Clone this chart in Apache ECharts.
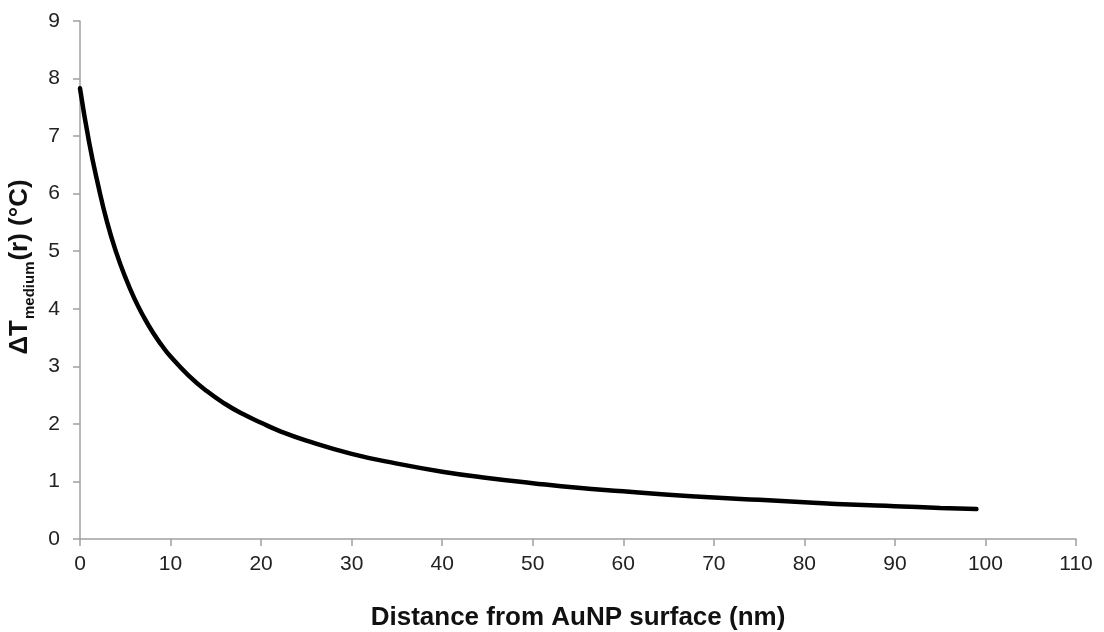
<!DOCTYPE html>
<html>
<head>
<meta charset="utf-8">
<script src="https://cdn.jsdelivr.net/npm/echarts@6/dist/echarts.min.js"></script>
<style>
html,body{margin:0;padding:0;background:#fff;}
#chart{width:1104px;height:632px;}
</style>
</head>
<body>
<div id="chart"></div>
<script>
// Distance from AuNP surface (nm)
var distance = [0, 1, 2, 3, 4, 5, 6, 7, 8, 9, 10, 12, 14, 16, 18, 20, 22, 25, 30, 35, 40, 45, 50, 55, 60, 65, 70, 75, 80, 85, 90, 95, 99];
// ΔT_medium(r) (°C)
var deltaT = [7.83, 6.9, 6.15, 5.5, 4.98, 4.55, 4.18, 3.87, 3.6, 3.37, 3.17, 2.84, 2.57, 2.35, 2.17, 2.02, 1.88, 1.71, 1.48, 1.31, 1.17, 1.06, 0.97, 0.89, 0.83, 0.77, 0.72, 0.68, 0.64, 0.6, 0.57, 0.54, 0.52];
var xTicks = {min: 0, max: 110, interval: 10};
var yTicks = {min: 0, max: 9, interval: 1};

var seriesData = distance.map(function (d, i) { return [d, deltaT[i]]; });

var chart = echarts.init(document.getElementById('chart'));
var axisColor = '#a0a0a0';
var fontFam = '"Liberation Sans", Arial, sans-serif';
chart.setOption({
  animation: false,
  backgroundColor: '#ffffff',
  grid: {left: 80, right: 28, top: 21, bottom: 93, containLabel: false, outerBoundsMode: 'none'},
  xAxis: {
    type: 'value',
    min: xTicks.min, max: xTicks.max, interval: xTicks.interval,
    name: 'Distance from AuNP surface (nm)',
    nameLocation: 'middle',
    nameGap: 66,
    nameTextStyle: {fontFamily: fontFam, fontSize: 26, fontWeight: 'bold', color: '#111'},
    axisLine: {show: true, lineStyle: {color: axisColor, width: 1.5}},
    axisTick: {show: true, length: 7, inside: false, lineStyle: {color: axisColor, width: 1.5}},
    axisLabel: {fontFamily: fontFam, fontSize: 21, color: '#222', margin: 15},
    splitLine: {show: false}
  },
  yAxis: {
    type: 'value',
    min: yTicks.min, max: yTicks.max, interval: yTicks.interval,
    name: '{a|ΔT}{s|medium}{a|(r) (°C)}',
    nameLocation: 'middle',
    nameGap: 45,
    nameRotate: 90,
    nameTextStyle: {
      padding: [0, 0, 0, 26],
      rich: {
        a: {fontFamily: fontFam, fontSize: 26, fontWeight: 'bold', color: '#111', lineHeight: 30, verticalAlign: 'bottom'},
        s: {fontFamily: fontFam, fontSize: 15, fontWeight: 'bold', color: '#111', lineHeight: 18, verticalAlign: 'bottom', padding: [0, 1, -5, 1]}
      }
    },
    axisLine: {show: true, lineStyle: {color: axisColor, width: 1.5}},
    axisTick: {show: true, length: 7, inside: false, lineStyle: {color: axisColor, width: 1.5}},
    axisLabel: {fontFamily: fontFam, fontSize: 21, color: '#222', margin: 20},
    splitLine: {show: false}
  },
  series: [{
    type: 'line',
    data: seriesData,
    smooth: 0.5,
    showSymbol: false,
    lineStyle: {color: '#000', width: 4.5, cap: 'round'}
  }]
});
</script>
</body>
</html>
